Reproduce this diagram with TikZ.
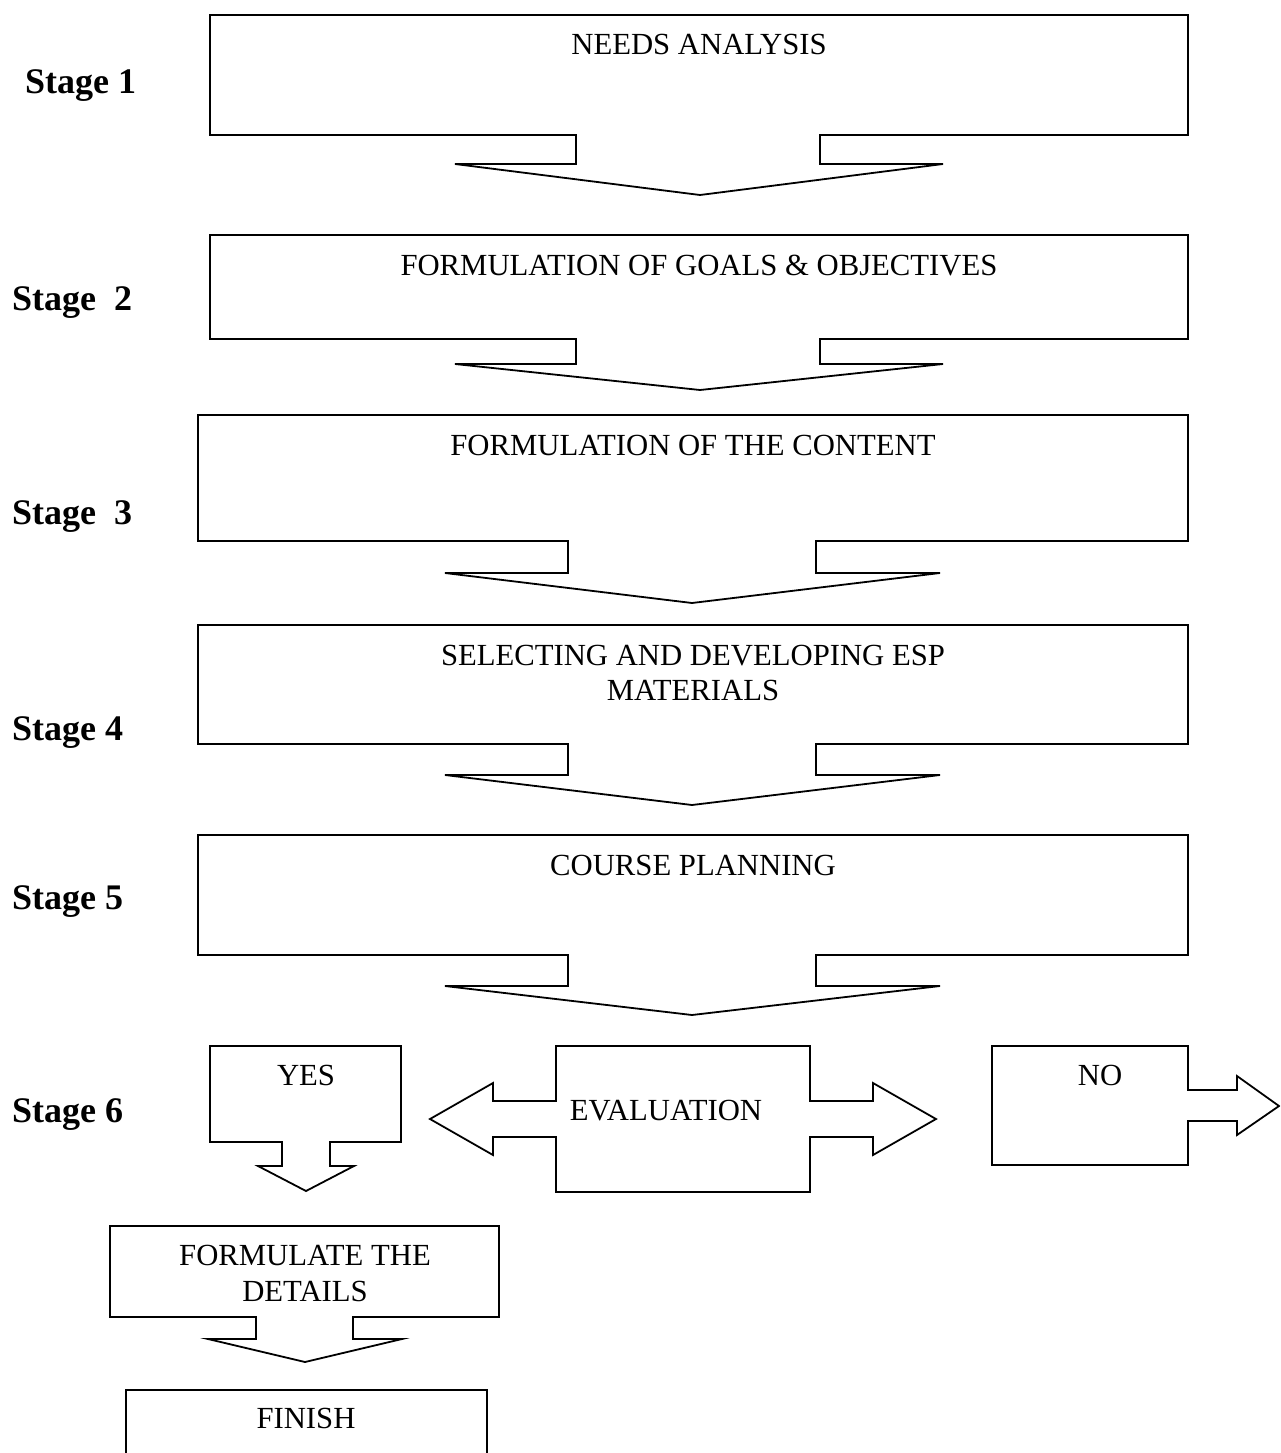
\documentclass[tikz,border=0pt]{standalone}
\usepackage{fontspec}
\setmainfont{Liberation Serif}
\begin{document}
\begin{tikzpicture}[x=1pt,y=-1pt,
  shapeline/.style={draw=black,line width=1.8pt,line join=miter,fill=white},
  lbl/.style={font=\fontsize{30.7}{35}\selectfont,inner sep=0pt,anchor=base,align=center},
  stagelbl/.style={font=\bfseries\fontsize{36}{40}\selectfont,inner sep=0pt,anchor=base west}]
\useasboundingbox (0,0) rectangle (1280,1453);
\clip (0,0) rectangle (1280,1453);

% Stage 1
\draw[shapeline] (210,15) -- (1188,15) -- (1188,135) -- (820,135) -- (820,164) -- (943,164) -- (700,195) -- (455,164) -- (576,164) -- (576,135) -- (210,135) -- cycle;
% Stage 2
\draw[shapeline] (210,235) -- (1188,235) -- (1188,339) -- (820,339) -- (820,364) -- (943,364) -- (700,390) -- (455,364) -- (576,364) -- (576,339) -- (210,339) -- cycle;
% Stage 3
\draw[shapeline] (198,415) -- (1188,415) -- (1188,541) -- (816,541) -- (816,573) -- (940,573) -- (692,603) -- (445,573) -- (568,573) -- (568,541) -- (198,541) -- cycle;
% Stage 4
\draw[shapeline] (198,625) -- (1188,625) -- (1188,744) -- (816,744) -- (816,775) -- (940,775) -- (692,805) -- (445,775) -- (568,775) -- (568,744) -- (198,744) -- cycle;
% Stage 5
\draw[shapeline] (198,835) -- (1188,835) -- (1188,955) -- (816,955) -- (816,986) -- (940,986) -- (692,1015) -- (445,986) -- (568,986) -- (568,955) -- (198,955) -- cycle;
% YES
\draw[shapeline] (210,1046) -- (401,1046) -- (401,1142) -- (330,1142) -- (330,1166) -- (354,1166) -- (306,1191) -- (258,1166) -- (282,1166) -- (282,1142) -- (210,1142) -- cycle;
% EVALUATION
\draw[shapeline] (556,1046) -- (810,1046) -- (810,1101) -- (873,1101) -- (873,1083) -- (936,1119) -- (873,1155) -- (873,1137) -- (810,1137) -- (810,1192) -- (556,1192) -- (556,1137) -- (493,1137) -- (493,1155) -- (430,1119) -- (493,1083) -- (493,1101) -- (556,1101) -- cycle;
% NO
\draw[shapeline] (992,1046) -- (1188,1046) -- (1188,1090) -- (1237,1090) -- (1237,1076) -- (1279,1106) -- (1237,1135) -- (1237,1121) -- (1188,1121) -- (1188,1165) -- (992,1165) -- cycle;
% FORMULATE THE DETAILS
\draw[shapeline] (110,1226) -- (499,1226) -- (499,1317) -- (353,1317) -- (353,1339) -- (402,1339) -- (305,1362) -- (208,1339) -- (256,1339) -- (256,1317) -- (110,1317) -- cycle;
% FINISH
\draw[shapeline] (126,1470) -- (126,1390) -- (487,1390) -- (487,1470);

% texts
\node[lbl] (t1) at (699,55) {NEEDS ANALYSIS};
\node[lbl] (t2) at (699,275) {FORMULATION OF GOALS \& OBJECTIVES};
\node[lbl] (t3) at (693,455) {FORMULATION OF THE CONTENT};
\node[lbl] (t4a) at (693,665) {SELECTING AND DEVELOPING ESP};
\node[lbl] (t4b) at (693,700) {MATERIALS};
\node[lbl] (t5) at (693,875) {COURSE PLANNING};
\node[lbl] (tyes) at (306,1085) {YES};
\node[lbl] (teval) at (666,1120) {EVALUATION};
\node[lbl] (tno) at (1100,1085) {NO};
\node[lbl] (tf1) at (305,1265) {FORMULATE THE};
\node[lbl] (tf2) at (305,1301) {DETAILS};
\node[lbl] (tfin) at (306,1428) {FINISH};

\node[stagelbl] (s1) at (25,94) {Stage 1};
\node[stagelbl] (s2) at (12,310) {Stage\ \ 2};
\node[stagelbl] (s3) at (12,524) {Stage\ \ 3};
\node[stagelbl] (s4) at (12,740) {Stage 4};
\node[stagelbl] (s5) at (12,909) {Stage 5};
\node[stagelbl] (s6) at (12,1122) {Stage 6};
\end{tikzpicture}
\end{document}
